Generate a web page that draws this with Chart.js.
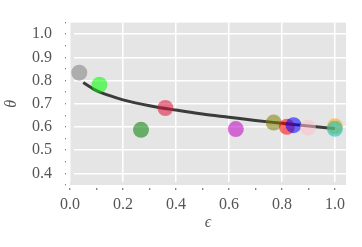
<!DOCTYPE html>
<html>
<head>
<meta charset="utf-8">
<script src="https://cdn.jsdelivr.net/npm/chart.js@4/dist/chart.umd.min.js"></script>
<style>
  html, body { margin: 0; padding: 0; background: #fff; }
  #wrap { width: 362px; height: 247px; }
</style>
</head>
<body>
<div id="wrap"><canvas id="chart" width="362" height="247"></canvas></div>
<script>
// Scatter points (epsilon, theta) and their colours
const pointEps   = [0.035, 0.111, 0.268, 0.360, 0.626, 0.769, 0.819, 0.844, 0.898, 1.000, 1.000];
const pointTheta = [0.834, 0.782, 0.588, 0.682, 0.591, 0.619, 0.601, 0.608, 0.597, 0.603, 0.592];
const pointColors = [
    'rgba(128,128,128,0.55)', 'rgba(0,255,0,0.55)', 'rgba(0,128,0,0.55)',
    'rgba(220,20,60,0.55)', 'rgba(191,0,191,0.55)', 'rgba(128,128,0,0.55)',
    'rgba(255,0,0,0.55)', 'rgba(0,0,255,0.55)', 'rgba(255,192,203,0.55)',
    'rgba(255,165,0,0.55)', 'rgba(0,191,191,0.55)'
];

// Fitted curve
const curveEps   = [0.05, 0.08, 0.10, 0.15, 0.20, 0.30, 0.40, 0.50, 0.60, 0.70, 0.80, 0.90, 1.00];
const curveTheta = [0.792, 0.770, 0.757, 0.735, 0.717, 0.692, 0.673, 0.656, 0.642, 0.628, 0.616, 0.604, 0.594];

// Tick positions (major ones get labels + grid lines)
const xTicks = [0.0, 0.1, 0.2, 0.3, 0.4, 0.5, 0.6, 0.7, 0.8, 0.9, 1.0];
const yTicks = [0.35, 0.40, 0.45, 0.50, 0.55, 0.60, 0.65, 0.70, 0.75, 0.80, 0.85, 0.90, 0.95, 1.00, 1.05];

const labelColor = '#555';
const tickFont = { family: "'Liberation Serif', 'DejaVu Serif', serif", size: 16 };
const titleFont = { family: "'Liberation Serif', 'DejaVu Serif', serif", size: 16, style: 'italic' };

function isMajorX(v) { return Math.round(v * 10) % 2 === 0; }
function isMajorY(v) { return Math.round(v * 100) % 10 === 0; }

new Chart(document.getElementById('chart'), {
    data: {
        datasets: [
            {
                type: 'scatter',
                data: pointEps.map((x, i) => ({ x: x, y: pointTheta[i] })),
                backgroundColor: pointColors,
                borderWidth: 0,
                pointRadius: 8,
                pointHoverRadius: 8,
                order: 0
            },
            {
                type: 'line',
                data: curveEps.map((x, i) => ({ x: x, y: curveTheta[i] })),
                borderColor: 'rgba(40,40,40,0.9)',
                borderWidth: 3,
                pointRadius: 0,
                cubicInterpolationMode: 'monotone',
                fill: false,
                order: 1
            }
        ]
    },
    plugins: [{
        id: 'panelBg',
        beforeDraw(chart) {
            const a = chart.chartArea;
            const ctx = chart.ctx;
            ctx.save();
            ctx.fillStyle = '#e5e5e5';
            ctx.fillRect(a.left, a.top, a.right - a.left, a.bottom - a.top);
            ctx.restore();
        }
    }],
    options: {
        responsive: false,
        animation: false,
        events: [],
        layout: { padding: { top: 15, right: 16, left: 0, bottom: 0 } },
        plugins: { legend: { display: false }, tooltip: { enabled: false } },
        scales: {
            x: {
                type: 'linear',
                min: 0,
                max: 1.042,
                afterFit(scale) { scale.height = 62; },
                afterBuildTicks(scale) { scale.ticks = xTicks.map(v => ({ value: v })); },
                border: { display: true, color: 'rgba(0,0,0,0)', width: 6 },
                grid: {
                    color: c => (c.tick && isMajorX(c.tick.value)) ? '#ffffff' : 'rgba(0,0,0,0)',
                    lineWidth: 1.5,
                    tickColor: '#555',
                    tickLength: 5,
                    tickWidth: 1
                },
                ticks: {
                    color: labelColor,
                    font: tickFont,
                    padding: 5,
                    maxRotation: 0,
                    autoSkip: false,
                    callback: v => isMajorX(v) ? v.toFixed(1) : ''
                },
                title: {
                    display: true,
                    text: 'ϵ',
                    color: labelColor,
                    font: titleFont,
                    padding: { top: 0, bottom: 15 }
                }
            },
            y: {
                type: 'linear',
                min: 0.35,
                max: 1.05,
                afterFit(scale) { scale.width = 70; },
                afterBuildTicks(scale) { scale.ticks = yTicks.map(v => ({ value: v })); },
                border: { display: true, color: 'rgba(0,0,0,0)', width: 8 },
                grid: {
                    color: c => (c.tick && isMajorY(c.tick.value)) ? '#ffffff' : 'rgba(0,0,0,0)',
                    lineWidth: 1.5,
                    tickColor: '#555',
                    tickLength: 5,
                    tickWidth: 1
                },
                ticks: {
                    color: labelColor,
                    font: tickFont,
                    padding: 13,
                    autoSkip: false,
                    callback: v => isMajorY(v) ? v.toFixed(1) : ''
                },
                title: {
                    display: true,
                    text: 'θ',
                    color: labelColor,
                    font: titleFont,
                    padding: { top: 2, bottom: 0 }
                }
            }
        }
    }
});
</script>
</body>
</html>
